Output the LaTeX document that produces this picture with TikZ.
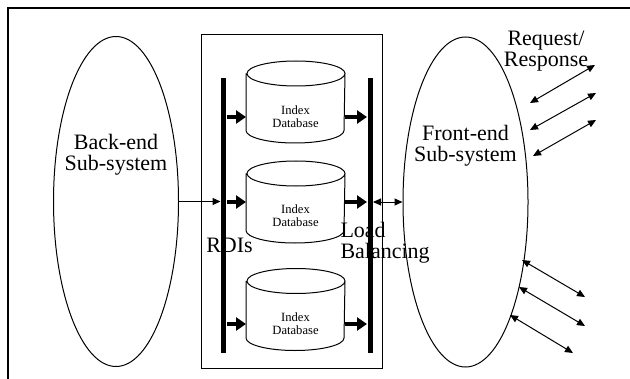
\documentclass[tikz,border=0pt]{standalone}
\usepackage{fontspec}
\setmainfont{Liberation Serif}
\usetikzlibrary{shapes.geometric,arrows.meta}
\tikzset{
  subsys/.style={draw, ellipse, minimum width=62.5pt, minimum height=165pt, inner sep=0pt},
  bigtext/.style={font=\fontsize{11}{10.5}\selectfont, align=center, inner sep=0pt},
  dbbody/.style={minimum width=49pt, minimum height=28pt, inner sep=0pt},
  dbtext/.style={font=\fontsize{6.3}{6.5}\selectfont, align=center, inner sep=0pt},
  bus/.style={fill=black, minimum width=2.5pt, minimum height=137.5pt, inner sep=0pt},
  feed/.style={line width=2pt, -{Triangle[length=5pt,width=6.5pt]}},
  link/.style={line width=0.5pt, -{Triangle[length=4pt,width=3.5pt]}},
  duplex/.style={line width=0.5pt, {Triangle[length=4pt,width=3.5pt]}-{Triangle[length=4pt,width=3.5pt]}},
}
\begin{document}
\begin{tikzpicture}[x=0.5pt, y=-0.5pt, line width=0.5pt]
\useasboundingbox (0,0) rectangle (630,379);
\draw[line width=1.2pt] (8,379) -- (8,8) -- (630,8);
% the two sub-systems
\node[subsys] (backend) at (116,201.5) {};
\node[subsys] (frontend) at (465.5,202) {};
\node[bigtext] (backlbl) at (116,155) {Back-end\\Sub-system};
\node[bigtext] (frontlbl) at (465.5,146) {Front-end\\Sub-system};
% index cluster
\node[draw, minimum width=90.5pt, minimum height=166.5pt, inner sep=0pt] (cluster) at (291.5,201.5) {};
\node[dbbody] (db1) at (295.5,102) {};
\node[dbbody] (db2) at (295.5,202) {};
\node[dbbody] (db3) at (295.5,309.5) {};
\foreach \db in {db1,db2,db3}
  \draw (\db.north west) -- (\db.south west)
    arc[start angle=180, end angle=360, x radius=24.5pt, y radius=6.25pt]
    -- (\db.north east)
    arc[start angle=0, end angle=360, x radius=24.5pt, y radius=6.25pt];
\node[dbtext] (db1lbl) at (295.5,117) {Index\\Database};
\node[dbtext] (db2lbl) at (295.5,216) {Index\\Database};
\node[dbtext] (db3lbl) at (295.5,324) {Index\\Database};
\node[bigtext] (rdilbl) at (229.5,245) {RDIs};
\node[bigtext, anchor=west, align=left] (lblbl) at (340,242.5) {Load\\Balancing};
\node[bus] (rdibus) at (223.5,215.5) {};
\node[bus] (lbbus) at (370,215.5) {};
% arrows
\draw[link] (backend.east) -- (rdibus.west |- backend.east);
\draw[feed] (rdibus.east |- db1lbl) -- (db1.west |- db1lbl);
\draw[feed] (rdibus.east |- db2.west) -- (db2.west);
\draw[feed] (rdibus.east |- db3lbl) -- (db3.west |- db3lbl);
\draw[feed] (db1.east |- db1lbl) -- (lbbus.west |- db1lbl);
\draw[feed] (db2.east) -- (lbbus.west |- db2.east);
\draw[feed] (db3.east |- db3lbl) -- (lbbus.west |- db3lbl);
\draw[duplex] (lbbus.east |- frontend.west) -- (frontend.west);
% request / response
\node[bigtext] (reqlbl) at (546,51) {Request/\\Response};
\coordinate (r1a) at (530,103);
\coordinate (r1b) at (595,65);
\coordinate (r2a) at (530,130);
\coordinate (r2b) at (596,93);
\coordinate (r3a) at (533,156);
\coordinate (r3b) at (596,120);
\coordinate (s1a) at (522,260);
\coordinate (s1b) at (585,297);
\coordinate (s2a) at (519,287);
\coordinate (s2b) at (585,326);
\coordinate (s3a) at (510,315);
\coordinate (s3b) at (573,353);
\draw[duplex] (r1a) -- (r1b);
\draw[duplex] (r2a) -- (r2b);
\draw[duplex] (r3a) -- (r3b);
\draw[duplex] (s1a) -- (s1b);
\draw[duplex] (s2a) -- (s2b);
\draw[duplex] (s3a) -- (s3b);
\end{tikzpicture}
\end{document}
